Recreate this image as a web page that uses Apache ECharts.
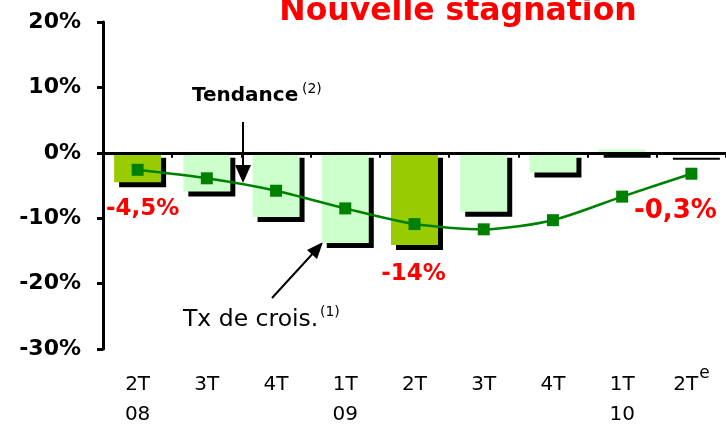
<!DOCTYPE html>
<html>
	<head>
		<meta charset="utf-8">
		<title></title>
		<script src="https://cdn.jsdelivr.net/npm/echarts@6/dist/echarts.min.js"></script>
	</head>
	<body style="margin: 0;">
		<div id="main" style="width: 726px; height: 430px;"></div>
		<script type="text/javascript">
			// quarters, growth rate (bars) and trend (line), in %
			var quarters = ['2T\n08', '3T', '4T', '1T\n09', '2T', '3T', '4T', '1T\n10', '2T{e|e}'];
			var growth = [-4.5, -5.9, -9.8, -13.8, -14.1, -9.0, -3.0, 0.5, -0.3];
			var trend = [-2.6, -3.9, -5.8, -8.5, -10.9, -11.7, -10.3, -6.7, -3.2];
			var valueLabels = ['-4,5%', '', '', '', '-14%', '', '', '', '-0,3%'];

			var font = 'DejaVu Sans';
			var labelOffsets = { 0: [5, 27, 23], 4: [-1, 29, 23], 8: [-16, 56, 26] };

			var myChart = echarts.init(document.getElementById("main"));

			var barData = growth.map(function (v, i) {
				return {
					value: v,
					itemStyle: { color: valueLabels[i] ? '#99cc00' : '#ccffcc' }
				};
			});

			option = {
			  animation: false,
			  grid: { left: 103, top: 22, width: 625, bottom: 78 },
			  xAxis: [
			    {
			      type: 'category',
			      data: quarters,
			      position: 'bottom',
			      axisLine: { onZero: true, lineStyle: { color: '#000', width: 3 } },
			      axisTick: { show: true, length: 5, inside: false, lineStyle: { color: '#000', width: 2 } },
			      axisLabel: { show: false },
			      z: 5
			    },
			    {
			      type: 'category',
			      data: quarters,
			      position: 'bottom',
			      axisLine: { show: false, onZero: false },
			      axisTick: { show: false },
			      axisLabel: {
			        interval: 0,
			        margin: 21,
			        color: '#000',
			        fontFamily: font,
			        fontSize: 20,
			        lineHeight: 30,
			        rich: {
			          e: { fontFamily: font, fontSize: 17, padding: [0, 0, 22, 1], color: '#000' }
			        }
			      }
			    }
			  ],
			  yAxis: {
			    type: 'value',
			    min: -30,
			    max: 20,
			    interval: 10,
			    splitLine: { show: false },
			    axisLine: { show: true, onZero: false, lineStyle: { color: '#000', width: 3 } },
			    axisTick: { show: true, length: 6, lineStyle: { color: '#000', width: 3 } },
			    axisLabel: {
			      formatter: '{value}%',
			      margin: 22,
			      color: '#000',
			      fontFamily: font,
			      fontWeight: 'bold',
			      fontSize: 22
			    }
			  },
			  series: [
			    {
			      name: 'Tx de crois.',
			      type: 'bar',
			      data: barData,
			      barWidth: 47,
			      itemStyle: {
			        shadowColor: '#000',
			        shadowBlur: 0,
			        shadowOffsetX: 5,
			        shadowOffsetY: 5
			      }
			    },
			    {
			      name: 'Tendance',
			      type: 'line',
			      data: trend,
			      smooth: 0.25,
			      symbol: 'rect',
			      symbolSize: 12,
			      lineStyle: { color: '#008000', width: 2.5 },
			      itemStyle: { color: '#008000' },
			      z: 10
			    }
			  ]
			};
			myChart.setOption(option);

			// annotations
			var graphics = [
			  {
			    type: 'text',
			    style: { x: 458, y: 12, text: 'Nouvelle stagnation', fill: '#ff0000', font: 'bold 31.5px "DejaVu Sans"', align: 'center', verticalAlign: 'middle' }
			  },
			  {
			    type: 'text',
			    style: { x: 192, y: 96, text: 'Tendance', fill: '#000', font: 'bold 20px "DejaVu Sans"', verticalAlign: 'middle' }
			  },
			  {
			    type: 'text',
			    style: { x: 302, y: 89, text: '(2)', fill: '#000', font: '14px "DejaVu Sans"', verticalAlign: 'middle' }
			  },
			  {
			    type: 'line',
			    shape: { x1: 243, y1: 122, x2: 243, y2: 170 },
			    style: { stroke: '#000', lineWidth: 2 }
			  },
			  {
			    type: 'polygon',
			    shape: { points: [[235, 165], [251, 165], [243, 183]] },
			    style: { fill: '#000' }
			  },
			  {
			    type: 'text',
			    style: { x: 183, y: 320, text: 'Tx de crois.', fill: '#000', font: '23.5px "DejaVu Sans"', verticalAlign: 'middle' }
			  },
			  {
			    type: 'text',
			    style: { x: 320, y: 312, text: '(1)', fill: '#000', font: '14px "DejaVu Sans"', verticalAlign: 'middle' }
			  },
			  {
			    type: 'line',
			    shape: { x1: 272, y1: 298, x2: 316, y2: 250 },
			    style: { stroke: '#000', lineWidth: 2 }
			  },
			  {
			    type: 'polygon',
			    shape: { points: [[323, 242], [307, 250], [317, 259]] },
			    style: { fill: '#000' }
			  }
			];

			valueLabels.forEach(function (txt, i) {
			  if (!txt) return;
			  var p = myChart.convertToPixel({ seriesIndex: 0 }, [i, growth[i]]);
			  var o = labelOffsets[i];
			  graphics.push({
			    type: 'text',
			    z: 20,
			    style: {
			      x: p[0] + o[0], y: p[1] + o[1], text: txt, fill: '#ff0000',
			      font: 'bold ' + o[2] + 'px "DejaVu Sans"', align: 'center', verticalAlign: 'middle'
			    }
			  });
			});

			myChart.setOption({ graphic: graphics });
		</script>
	</body>
</html>
